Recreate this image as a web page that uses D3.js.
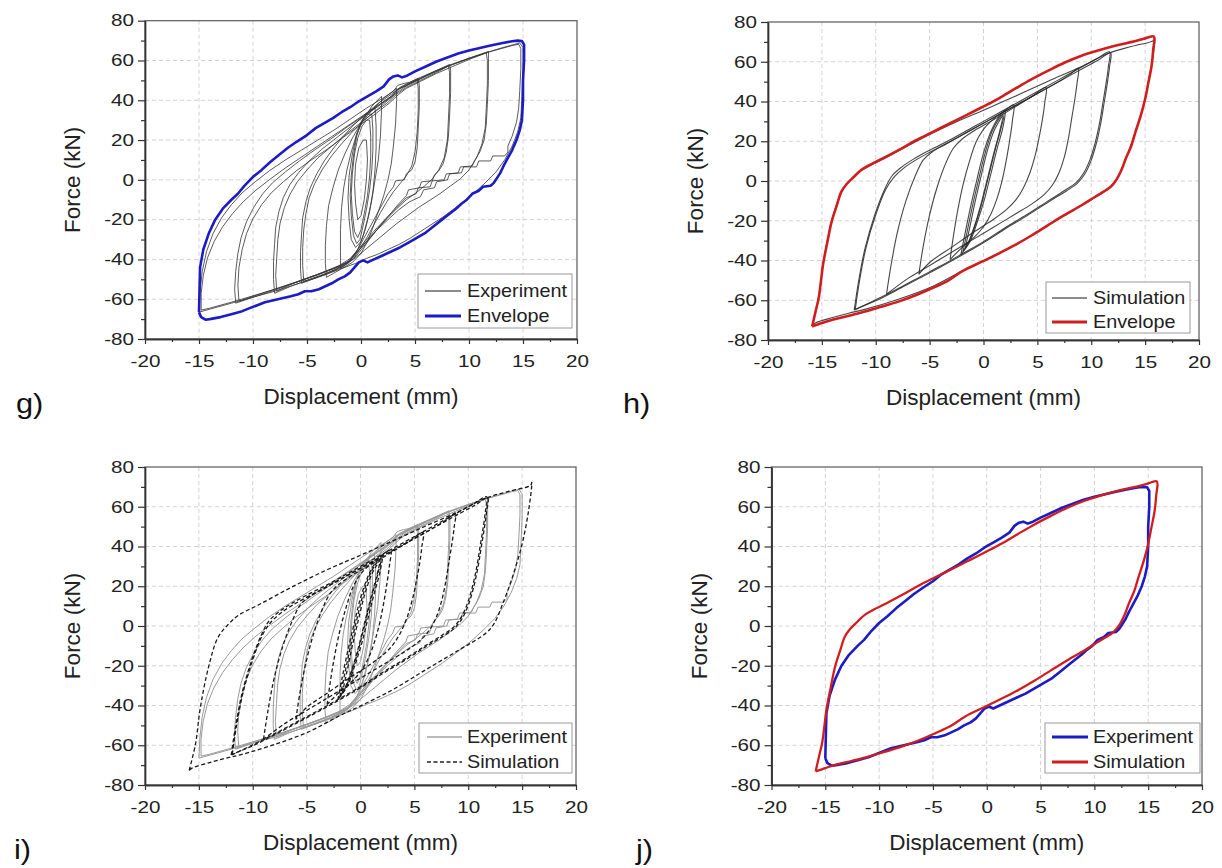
<!DOCTYPE html>
<html><head><meta charset="utf-8">
<script src="https://cdn.jsdelivr.net/npm/d3@7"></script>
<style>
html,body{margin:0;padding:0;background:#fff;}
svg{display:block;font-family:"Liberation Sans",Arial,Helvetica,sans-serif;}
</style></head><body>
<svg id="c" width="1222" height="868"></svg>
<script>
// ---------- axis / label data ----------
const xTicks=[-20,-15,-10,-5,0,5,10,15,20];
const xTickLabels=["-20","-15","-10","-5","0","5","10","15","20"];
const xMinorTicks=[-17.5,-12.5,-7.5,-2.5,2.5,7.5,12.5,17.5];
const yTicks=[-80,-60,-40,-20,0,20,40,60,80];
const yTickLabels=["-80","-60","-40","-20","0","20","40","60","80"];
const yMinorTicks=[-70,-50,-30,-10,10,30,50,70];
const xTitle="Displacement (mm)";
const yTitle="Force (kN)";
const panelLabels=["g)","h)","i)","j)"];
const legendLabels=[["Experiment","Envelope"],["Simulation","Envelope"],["Experiment","Simulation"],["Experiment","Simulation"]];

// ---------- envelopes [displacement mm, force kN] ----------
const expEnvelope=[[-15.0,-66.5],[-14.95,-55],[-14.9,-44],[-14.6,-35],[-14.1,-27],[-13.5,-20],[-12.8,-14.5],[-12.0,-10],[-11.4,-7],[-10.8,-3],[-10.0,1.5],[-9.2,5],[-8.4,9],[-7.6,12.5],[-6.8,16],[-6.0,19],[-5.0,22.5],[-4.2,26],[-3.4,28.5],[-2.6,31],[-1.8,34],[-1.0,36.5],[-0.2,39.5],[0.6,42],[1.4,44.5],[2.1,47],[2.6,50.5],[3.0,52],[3.4,52.5],[3.8,51.5],[4.3,52.5],[5.0,54.5],[6.0,57],[7.0,59.5],[8.0,61.5],[9.0,63.5],[10.0,65],[11.0,66.3],[12.0,67.5],[13.0,68.7],[14.0,69.7],[14.5,70],[14.9,69.8],[15.1,68],[15.1,60],[15.0,50],[15.0,40],[14.9,30],[14.7,25],[14.4,20],[14.0,15],[13.6,11],[13.2,7],[12.9,3.5],[12.6,1],[12.3,-1.5],[12.0,-3],[11.3,-3.5],[10.9,-5.5],[10.3,-7],[9.8,-10],[9.3,-12],[8.8,-14.5],[8.2,-17],[7.5,-20],[6.7,-23.5],[6.0,-26.5],[5.2,-29],[4.4,-31.5],[3.6,-34],[2.8,-36],[2.0,-38],[1.2,-40],[0.6,-41.5],[0.2,-40.5],[-0.2,-41.5],[-0.6,-44],[-1.0,-46.5],[-1.5,-48.5],[-2.1,-50],[-2.7,-52],[-3.3,-53.5],[-3.9,-55],[-4.6,-56],[-5.2,-56],[-5.8,-57.5],[-6.5,-58.5],[-7.3,-59.5],[-8.1,-60.5],[-8.9,-61.5],[-9.6,-63],[-10.3,-64.5],[-11.0,-66],[-12.0,-67.5],[-13.0,-69],[-14.0,-70],[-14.4,-70.3],[-14.8,-69],[-15.0,-66.5]];

const simEnvelope=[[-15.9,-73.2],[-15.6,-66],[-15.3,-59],[-15.1,-51],[-14.9,-42.3],[-14.5,-31],[-14.1,-20.6],[-13.6,-12],[-13.2,-5.5],[-12.7,-1.5],[-12.2,1.2],[-11.3,5.7],[-10.4,8.5],[-9.4,11.2],[-7.8,15.8],[-6.3,20.4],[-4.6,25],[-2.9,29.6],[-1.5,33.4],[-0.15,37.1],[1.4,41.5],[2.9,46.3],[4.4,51],[6.0,55.5],[7.5,59.5],[9.1,63],[10.4,65.3],[11.6,67.2],[12.7,68.7],[13.8,70],[14.8,71.4],[15.8,72.7],[15.75,66],[15.6,58],[15.3,49.5],[15.0,41.3],[14.6,33],[14.1,24.6],[13.7,17.5],[13.2,11.2],[12.8,5.5],[12.4,1.2],[12.0,-1.8],[11.6,-3.8],[10.4,-7.8],[9.1,-12.2],[7.5,-17.2],[6.0,-22.2],[4.5,-27.3],[2.9,-32.3],[1.4,-36.5],[-0.15,-40.6],[-2.0,-45.5],[-3.4,-50.5],[-4.8,-54],[-6.3,-57.5],[-7.9,-60.7],[-9.5,-63.3],[-11.0,-65.7],[-12.5,-67.8],[-14.1,-69.9],[-15.0,-71.5],[-15.9,-73.2]];

// ---------- experimental cycles ----------
const expE15a=[[-15.0,-66.5],[-14.9,-56],[-14.7,-46],[-14.3,-36],[-13.7,-27],[-12.9,-19],[-12.0,-12.5],[-11.0,-6.5],[-9.8,-1],[-8.5,4.5],[-7.0,10],[-5.5,15],[-4.0,20],[-2.5,25],[-1.0,30.5],[0.5,36],[2.0,41],[3.0,44.5],[3.4,47.5],[4.0,48.5],[4.5,49],[5.5,51.5],[7.0,55],[8.5,58.3],[10.0,61.2],[11.5,63.8],[13.0,66.3],[14.0,67.8],[14.7,68.8],[15.0,66.5],[15.0,55],[14.9,42],[14.8,31],[14.5,24],[14.0,17],[13.3,10],[12.5,4],[11.5,-1.5],[10.5,-6.5],[9.5,-11],[8.5,-15],[7.5,-19],[6.5,-22.5],[5.5,-26],[4.5,-29.5],[3.5,-32.5],[2.5,-35],[1.5,-37.5],[0.5,-39.5],[-0.5,-42],[-2,-45],[-4,-49],[-6,-52.5],[-8,-56],[-10,-59],[-12,-62],[-14,-65],[-15.0,-66.5]];
const expE15b=[[-14.8,-65.5],[-14.8,-57],[-14.6,-48],[-14.2,-39],[-13.6,-31],[-12.8,-23.5],[-11.9,-17],[-10.9,-11],[-9.8,-5.5],[-8.5,0],[-7.0,6],[-5.5,11.5],[-4.0,17],[-2.5,22.5],[-1.0,28],[0.5,33.5],[2.0,39],[3.2,43.5],[3.6,46],[4.5,48],[6.0,52],[8.0,57],[10.0,61],[12.0,64.5],[14.0,67.5],[14.6,68.2],[14.8,66],[14.8,56],[14.7,45],[14.6,36],[14.4,29],[14.0,22],[13.6,17],[13.6,14],[13.3,12],[12.2,12],[12.0,9.5],[10.9,9.5],[10.7,6.5],[9.5,6.5],[9.3,3.5],[8.2,3],[8,0],[7,-1],[6.8,-4],[5.8,-5],[5.5,-8.5],[4.5,-11],[3.5,-15],[2.5,-20],[1.5,-25],[0.5,-31],[-0.3,-36],[-1,-40.5],[-2,-43.5],[-4,-47.8],[-6,-51.5],[-8,-55],[-10,-58.3],[-12,-61.5],[-14,-64.5],[-14.8,-65.5]];
const expE12a=[[-11.6,-62],[-11.7,-55],[-11.6,-46],[-11.4,-37],[-11.1,-29],[-10.6,-21],[-9.9,-13.5],[-9.1,-7],[-8.2,-1.5],[-7.0,4],[-5.7,9.5],[-4.3,15],[-2.8,20.5],[-1.3,26.5],[0.2,32],[1.5,37],[2.8,42],[3.3,45],[4.0,47],[5.0,49.8],[6.5,53.5],[8.0,57],[9.5,60],[11.0,63],[11.8,64.5],[11.8,61],[11.8,50],[11.7,38],[11.6,28],[11.4,20],[11.0,14],[10.5,9.5],[10.3,7],[9.2,6.5],[9.0,3.5],[7.9,3],[7.7,0],[6.6,-0.5],[6.4,-3.5],[5.3,-4],[5.1,-7],[4.2,-9],[3.3,-14],[2.4,-19],[1.5,-24],[0.6,-29.5],[-0.2,-34.5],[-1.0,-39.5],[-2,-43],[-4,-47.5],[-6,-51.5],[-8,-55.5],[-10,-59],[-11.6,-62]];
const expE12b=[[-11.3,-61],[-11.4,-53],[-11.3,-44],[-11.0,-35],[-10.6,-27],[-10.0,-19.5],[-9.2,-12.5],[-8.3,-6.5],[-7.2,-1],[-6.0,4.5],[-4.6,10],[-3.1,15.5],[-1.6,21.5],[-0.1,27.5],[1.3,33],[2.6,38.5],[3.5,43],[4.2,46],[5.5,49.5],[7.0,53.5],[8.5,57],[10.0,60.5],[11.6,63.8],[11.7,60],[11.7,48],[11.6,36],[11.5,26],[11.2,18],[10.7,11],[10.0,5],[9.2,0.5],[8.3,-3],[7.3,-7],[6.3,-10.5],[5.3,-14],[4.3,-18],[3.3,-22],[2.3,-26.5],[1.3,-31],[0.3,-35.5],[-0.7,-40],[-2,-43.5],[-4,-47.5],[-6,-51.3],[-8,-55],[-10,-58.5],[-11.3,-61]];
const expE8a=[[-8.0,-57],[-8.1,-50],[-8.1,-41],[-8.0,-32],[-7.9,-24],[-7.6,-16],[-7.2,-9],[-6.6,-2.5],[-5.8,3.5],[-4.8,9.5],[-3.6,15.5],[-2.3,21],[-1.0,26.5],[0.3,32],[1.6,37],[2.9,42],[3.4,45.5],[4.2,47.8],[5.5,51],[7.0,55],[8.2,58],[8.3,55],[8.3,44],[8.2,32],[8.1,22],[7.9,14],[7.6,8],[7.2,4.5],[6.8,2.5],[6.6,-0.5],[5.6,-1],[5.4,-4],[4.4,-5],[4.2,-8],[3.5,-12],[2.8,-16.5],[2.0,-21.5],[1.2,-27],[0.4,-32.5],[-0.4,-38],[-1.2,-42],[-2.5,-45.5],[-4.5,-49.5],[-6.5,-53.5],[-8.0,-57]];
const expE8b=[[-7.8,-56],[-7.9,-48],[-7.8,-39],[-7.7,-30],[-7.5,-22],[-7.1,-14],[-6.6,-7.5],[-5.9,-1],[-5.0,5],[-4.0,11],[-2.8,16.5],[-1.5,22.5],[-0.2,28],[1.1,33.5],[2.4,38.5],[3.3,43],[4.2,46.5],[5.5,50],[7.0,54],[8.1,57.2],[8.2,54],[8.2,43],[8.1,31],[8.0,20],[7.7,11],[7.2,5],[6.6,0.5],[5.9,-3],[5.1,-6.5],[4.2,-10],[3.3,-14.5],[2.4,-19.5],[1.5,-25],[0.6,-30.5],[-0.3,-36],[-1.2,-41],[-2.5,-44.5],[-4.5,-48.5],[-6.5,-52.5],[-7.8,-56]];
const expE5a=[[-5.5,-52],[-5.6,-45],[-5.6,-36],[-5.5,-27],[-5.4,-19],[-5.1,-11],[-4.7,-4],[-4.1,3],[-3.4,9.5],[-2.6,15.5],[-1.7,21.5],[-0.7,27.5],[0.4,33],[1.6,38.5],[2.8,43],[3.6,46.5],[4.5,49],[5.3,51],[5.4,47.5],[5.4,37],[5.3,26],[5.2,16],[5.0,9],[4.7,5],[4.2,3],[4.0,0],[3.2,-0.5],[3.0,-3.5],[2.5,-7],[2.0,-12],[1.4,-18],[0.8,-24],[0.2,-30],[-0.4,-36],[-1.1,-41],[-2.2,-44.5],[-3.8,-48.5],[-5.5,-52]];
const expE5b=[[-5.3,-51],[-5.4,-43],[-5.4,-34],[-5.3,-25],[-5.1,-17],[-4.8,-9],[-4.3,-2],[-3.6,5],[-2.8,11.5],[-1.9,17.5],[-0.9,23.5],[0.2,29.5],[1.4,35],[2.6,40.5],[3.5,44.5],[4.4,48],[5.2,50.3],[5.3,46],[5.3,35],[5.2,24],[5.0,14],[4.7,7],[4.2,2],[3.6,-2],[3.0,-6],[2.4,-11],[1.8,-16.5],[1.2,-22.5],[0.6,-28.5],[0,-34],[-0.7,-39.5],[-1.6,-43.5],[-3.2,-47.5],[-5.3,-51]];
const expE3=[[-3.2,-49],[-3.3,-42],[-3.3,-33],[-3.2,-23],[-3.0,-13],[-2.6,-4],[-2.1,5],[-1.5,13],[-0.8,21],[0,28.5],[1.0,35],[2.1,41],[3.3,46],[3.3,40],[3.2,28],[3.0,17],[2.8,8],[2.5,0],[2.1,-8],[1.6,-16],[1.1,-24],[0.6,-31],[0,-37],[-0.8,-41.5],[-1.9,-45],[-3.2,-49]];
const expE2=[[-1.9,-44.5],[-1.9,-36],[-1.9,-25],[-1.8,-14],[-1.6,-4],[-1.3,5],[-0.9,14],[-0.4,23],[0.2,30],[1.0,37],[1.9,42],[1.9,35],[1.8,22],[1.6,10],[1.3,0],[1.0,-10],[0.6,-20],[0.2,-28],[-0.3,-35],[-1.0,-40.5],[-1.9,-44.5]];
const expE1a=[[1.0,33],[1.1,25],[1.1,15],[1.0,5],[0.8,-5],[0.5,-15],[0.2,-23],[-0.1,-30],[-0.4,-32],[-0.7,-28],[-0.9,-18],[-1.0,-8],[-0.9,2],[-0.7,12],[-0.4,22],[0,29],[0.5,33],[1.0,33]];
const expE1b=[[0.8,30],[0.9,22],[0.9,12],[0.8,2],[0.6,-8],[0.3,-17],[0,-25],[-0.3,-29],[-0.6,-26],[-0.8,-17],[-0.9,-7],[-0.8,3],[-0.6,13],[-0.3,21],[0.1,27],[0.5,30],[0.8,30]];
const expE1c=[[1.3,36],[1.4,27],[1.4,16],[1.3,5],[1.1,-6],[0.8,-16],[0.4,-25],[0,-31],[-0.5,-34],[-0.9,-30],[-1.1,-20],[-1.2,-9],[-1.1,2],[-0.8,13],[-0.4,23],[0.2,31],[0.8,35],[1.3,36]];
const expE0=[[0.5,20],[0.6,10],[0.5,0],[0.3,-10],[0,-18],[-0.3,-20],[-0.5,-12],[-0.6,-2],[-0.5,8],[-0.2,16],[0.2,20],[0.5,20]];
const expCycles=[expE15a,expE15b,expE12a,expE12b,expE8a,expE8b,expE5a,expE5b,expE3,expE2,expE1a,expE1b,expE1c,expE0];

// ---------- simulated cycles ----------
const simS16=[[-15.9,-72.7],[-15.3,-59],[-14.9,-42.3],[-14.1,-20.6],[-13.2,-5.5],[-12.2,1.2],[-11.3,5.5],[-9.4,10.8],[-6.3,19.8],[-2.9,28.8],[0,35.6],[3,42.8],[6,50.2],[9,57.3],[11.6,64.3],[13.8,67.8],[15.8,70.8],[15.9,72.3],[15.6,58],[15.0,41.3],[14.1,24.6],[13.2,11.2],[12.4,1.2],[11.6,-3.8],[9.1,-12.2],[6.0,-22.2],[2.9,-32.3],[-0.15,-40.6],[-2.0,-45.3],[-4.8,-53.2],[-7.9,-59.5],[-11,-64.6],[-12.5,-66.5],[-14,-68.7],[-15.6,-71.4],[-15.9,-72.7]];
const simS12a=[[-12,-65],[-11.6,-50.7],[-11,-34],[-10.1,-17.2],[-9.2,-4.5],[-8.5,2.5],[-7.6,7],[-6.5,11],[-5,15.5],[-3,21],[-1,27],[1,33],[3,39],[5,45],[7,51],[9,57],[10.5,61.5],[11.7,65],[11.6,58],[11.4,50],[11.1,40],[10.8,30],[10.4,20],[9.9,11],[9.3,4],[8.6,-0.8],[7.6,-4.5],[6,-10],[4,-17],[2,-23.5],[0,-30.5],[-2,-36.7],[-4,-42.8],[-6,-48.5],[-8,-54.3],[-10,-59.8],[-12,-65]];
const simS12b=[[-11.9,-64.5],[-11.5,-50],[-10.9,-33.5],[-10,-17],[-9.1,-4.5],[-8.3,2],[-7.4,6.5],[-6.3,10.5],[-4.8,15],[-2.8,20.8],[-0.8,26.8],[1.2,32.7],[3.2,38.7],[5.2,44.6],[7.2,50.6],[9.2,56.6],[10.7,61],[11.8,64.5],[11.7,57.5],[11.5,49.5],[11.2,39.5],[10.9,29.5],[10.5,19.5],[10,10.5],[9.4,3.5],[8.7,-1.2],[7.7,-5],[6.1,-10.3],[4.1,-17.3],[2.1,-23.8],[0.1,-30.7],[-1.9,-37],[-3.9,-43],[-5.9,-48.8],[-7.9,-54.5],[-9.9,-60],[-11.9,-64.5]];
const simS9=[[-9,-57],[-8.6,-43],[-8.0,-26],[-7.2,-10],[-6.3,3],[-5.6,10.5],[-4.8,14.5],[-3.5,18.5],[-1.5,24.5],[0.5,30.5],[2.5,36.5],[4.5,42.5],[6.5,48.5],[8,53.5],[8.8,56.7],[8.7,50],[8.5,42],[8.2,32],[7.9,22],[7.5,12],[7.0,4],[6.4,-2],[5.6,-7],[4.5,-11.5],[3,-16.5],[1,-23],[-1,-29.5],[-3,-36],[-5,-42.5],[-7,-49],[-9,-57]];
const simS6=[[-6,-47],[-5.6,-33],[-5.0,-17],[-4.3,-3],[-3.5,9],[-2.8,16.5],[-2,21],[-0.8,25.5],[1,31],[3,37.5],[4.5,42.5],[5.8,47],[5.7,40],[5.5,32],[5.2,23],[4.8,13],[4.3,4],[3.7,-3.5],[3,-9.5],[2.2,-14],[1,-19],[-1,-26],[-3,-33.5],[-5,-41],[-6,-47]];
const simS3=[[-3.1,-39.5],[-2.8,-28],[-2.4,-15],[-1.9,-2],[-1.3,10],[-0.7,19.5],[0,26],[1,31.5],[2,35.5],[2.8,38.3],[2.7,31],[2.5,23],[2.2,13],[1.8,2],[1.3,-8],[0.7,-16.5],[0,-23],[-0.9,-28.5],[-2,-33.5],[-3.1,-39.5]];
const simS2a=[[-1.9,-35.5],[-1.5,-25],[-1.0,-12],[-0.4,2],[0.2,15],[0.8,25],[1.4,31],[1.9,34],[1.6,26],[1.1,16],[0.5,3],[-0.1,-10],[-0.7,-21],[-1.3,-30],[-1.9,-35.5]];
const simS2b=[[-2.1,-37],[-1.7,-26],[-1.2,-13],[-0.6,1],[0,14],[0.7,25],[1.4,32],[2.0,35.5],[1.8,27],[1.3,17],[0.7,4],[0.1,-9],[-0.6,-21],[-1.3,-31],[-2.1,-37]];
const simS2c=[[-1.7,-34],[-1.3,-24],[-0.8,-11],[-0.2,3],[0.4,16],[1,25.5],[1.5,30.5],[1.8,33],[1.5,25],[1,15],[0.4,2],[-0.2,-11],[-0.8,-22],[-1.3,-29.5],[-1.7,-34]];
const simCycles=[simS16,simS12a,simS12b,simS9,simS6,simS3,simS2a,simS2b,simS2c];

// ---------- layout & styles (not data) ----------
const panels=[
 {x0:145,x1:577,y0:20.7,y1:339,lab:[16,413],leg:{x:418,y:274,w:154,h:54,lx:7,ll:36,r1:17,r2:42,tx:49}},
 {x0:768,x1:1199,y0:22,y1:340,lab:[623,413],leg:{x:1046,y:282,w:144,h:51,lx:6,ll:35,r1:16,r2:40,tx:47}},
 {x0:145,x1:576,y0:467,y1:785,lab:[14,859],leg:{x:419,y:723,w:153,h:50,lx:8,ll:35,r1:14,r2:39,tx:48}},
 {x0:771.5,x1:1202,y0:467,y1:785,lab:[636,859],leg:{x:1045,y:723,w:155,h:50,lx:7,ll:36,r1:14,r2:39,tx:48}}
];
const st={
 exp:{stroke:'#333',w:1,op:0.8,curve:d3.curveLinear},
 expLight:{stroke:'#9a9a9a',w:1,op:1,curve:d3.curveLinear},
 sim:{stroke:'#262626',w:1.1,op:0.85,curve:d3.curveCatmullRom.alpha(0.5)},
 simDash:{stroke:'#1a1a1a',w:1.3,op:1,dash:'4,2.5',curve:d3.curveCatmullRom.alpha(0.5)},
 blue:{stroke:'#1c1cc6',w:2.6,op:1,curve:d3.curveLinear},
 red:{stroke:'#d01e1e',w:2.6,op:1,curve:d3.curveCatmullRom.alpha(0.5)},
 redJ:{stroke:'#d01e1e',w:2.3,op:1,curve:d3.curveCatmullRom.alpha(0.5)}
};
const legSample={
 exp:{stroke:'#666',w:1.3},expLight:{stroke:'#a5a5a5',w:1.3},sim:{stroke:'#666',w:1.3},
 simDash:{stroke:'#222',w:1.3,dash:'4,2.5'},blue:{stroke:'#1c1cc6',w:3},red:{stroke:'#d01e1e',w:3},redJ:{stroke:'#d01e1e',w:3}
};
const panelSeries=[
 [[expCycles,'exp'],[[expEnvelope],'blue']],
 [[simCycles,'sim'],[[simEnvelope],'red']],
 [[expCycles,'expLight'],[simCycles,'simDash']],
 [[[expEnvelope],'blue'],[[simEnvelope],'redJ']]
];
const panelLegendStyles=[['exp','blue'],['sim','red'],['expLight','simDash'],['blue','redJ']];

const svg=d3.select('#c');
svg.append('rect').attr('width',1222).attr('height',868).attr('fill','#fff');

panels.forEach((p,pi)=>{
  const w=p.x1-p.x0, h=p.y1-p.y0;
  const g=svg.append('g').attr('transform',`translate(${p.x0},${p.y0})`);
  const x=d3.scaleLinear().domain([-20,20]).range([0,w]);
  const y=d3.scaleLinear().domain([-80,80]).range([h,0]);
  // grid
  g.append('g').selectAll('line').data(xTicks.slice(1,-1)).join('line')
    .attr('x1',d=>x(d)).attr('x2',d=>x(d)).attr('y1',0).attr('y2',h)
    .attr('stroke','#d2d2d2').attr('stroke-width',1).attr('stroke-dasharray','4,3');
  g.append('g').selectAll('line').data(yTicks.slice(1,-1)).join('line')
    .attr('y1',d=>y(d)).attr('y2',d=>y(d)).attr('x1',0).attr('x2',w)
    .attr('stroke','#d2d2d2').attr('stroke-width',1).attr('stroke-dasharray','4,3');
  // series
  panelSeries[pi].forEach(([arrs,key])=>{
    const s=st[key];
    const line=d3.line().x(d=>x(d[0])).y(d=>y(d[1])).curve(s.curve);
    g.append('g').selectAll('path').data(arrs).join('path')
      .attr('d',line).attr('fill','none').attr('stroke',s.stroke)
      .attr('stroke-width',s.w).attr('stroke-opacity',s.op)
      .attr('stroke-linejoin','round')
      .attr('stroke-dasharray',s.dash||null);
  });
  // frame
  g.append('rect').attr('width',w).attr('height',h).attr('fill','none')
    .attr('stroke','#666').attr('stroke-width',1.3);
  // axes
  const ax=g.append('g').attr('transform',`translate(0,${h})`)
    .call(d3.axisBottom(x).tickValues(xTicks).tickFormat((d,i)=>xTickLabels[i]).tickSize(5).tickSizeOuter(0).tickPadding(11));
  const axm=g.append('g').attr('transform',`translate(0,${h})`)
    .call(d3.axisBottom(x).tickValues(xMinorTicks).tickFormat('').tickSize(3).tickSizeOuter(0));
  const ay=g.append('g')
    .call(d3.axisLeft(y).tickValues(yTicks).tickFormat((d,i)=>yTickLabels[i]).tickSize(7).tickSizeOuter(0).tickPadding(3));
  const aym=g.append('g')
    .call(d3.axisLeft(y).tickValues(yMinorTicks).tickFormat('').tickSize(4).tickSizeOuter(0));
  [ax,axm,ay,aym].forEach(a=>{
    a.select('.domain').attr('stroke','#333').attr('stroke-width',1.4);
    a.selectAll('line').attr('stroke','#333').attr('stroke-width',1.2);
    a.selectAll('text').attr('fill','#222').style('font-size','16.5px')
      .style('font-family','"Liberation Sans",Arial,sans-serif');
  });
  ax.selectAll('text').attr('transform','scale(1.25,1)');
  ay.selectAll('text').attr('x',-8.8).attr('transform','scale(1.25,1)');
  // titles
  g.append('text').attr('x',w/2).attr('y',h+65).attr('text-anchor','middle')
    .attr('fill','#222').style('font-size','22.5px').text(xTitle);
  g.append('text').attr('transform',`translate(-65,${h/2}) rotate(-90)`).attr('text-anchor','middle')
    .attr('fill','#222').style('font-size','22.5px').text(yTitle);
  // panel label
  svg.append('text').attr('transform',`translate(${p.lab[0]},${p.lab[1]}) scale(1.1,1)`)
    .attr('fill','#111').style('font-size','28px').text(panelLabels[pi]);
  // legend
  const L=p.leg;
  const lg=svg.append('g').attr('transform',`translate(${L.x},${L.y})`);
  lg.append('rect').attr('width',L.w).attr('height',L.h).attr('fill','#fff')
    .attr('stroke','#9a9a9a').attr('stroke-width',1);
  [L.r1,L.r2].forEach((ry,k)=>{
    const s=legSample[panelLegendStyles[pi][k]];
    lg.append('line').attr('x1',L.lx).attr('x2',L.lx+L.ll).attr('y1',ry).attr('y2',ry)
      .attr('stroke',s.stroke).attr('stroke-width',s.w).attr('stroke-dasharray',s.dash||null);
    lg.append('text').attr('transform',`translate(${L.tx},${ry}) scale(1.1,1)`).attr('dy','0.35em')
      .attr('fill','#222').style('font-size','18px').text(legendLabels[pi][k]);
  });
});
</script>
</body></html>
